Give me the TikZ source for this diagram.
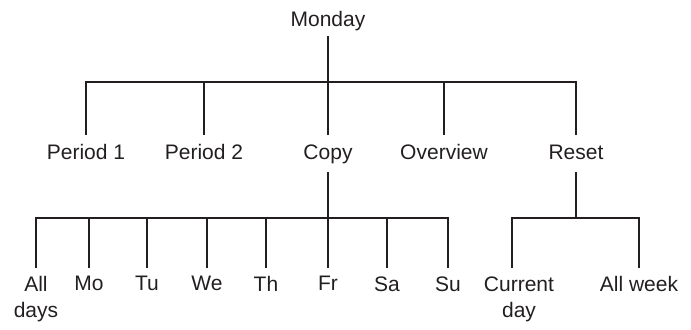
\documentclass[tikz,border=0pt]{standalone}
\usepackage{fontspec}
\setmainfont{Liberation Sans}
\usepackage{xcolor}
\definecolor{ink}{HTML}{231F20}
\usetikzlibrary{positioning, calc}

\begin{document}
\begin{tikzpicture}[
    x=0.5pt, y=-0.5pt,
    every node/.style={font=\fontsize{10.5}{13}\selectfont, text=ink},
    lbl/.style={anchor=base, inner xsep=1pt, inner ysep=4pt,
                text height=8pt, text depth=2.5pt},
    leaf/.style={anchor=north, align=center, inner xsep=1pt, inner ysep=4pt},
    edge/.style={draw=ink, line width=1.1pt}
]
\useasboundingbox (0,0) rectangle (691,329);
% Root
\node[lbl, inner ysep=2.5pt] (mon) at (328,26) {Monday};
% Menu row
\foreach \x/\n/\t in {86/p1/Period 1, 204/p2/Period 2, 328/copy/Copy,
                      444/ovw/Overview, 576/reset/Reset} {
    \node[lbl] (\n) at (\x,159) {\t};
}
% Copy targets
\foreach \x/\n/\t in {36/all/All\\days, 89/mo/Mo, 147/tu/Tu, 207/we/We,
                      266/th/Th, 328/fr/Fr, 387/sa/Sa, 448/su/Su} {
    \node[leaf] (\n) at (\x,268) {\t};
}
% Reset targets
\node[leaf] (cur) at (519,268) {Current\\day};
\node[leaf] (wk) at (639,268) {All week};
% Junctions
\coordinate (jtop) at (328,82);
\coordinate (jcopy) at (328,218);
\coordinate (jreset) at (576,218);
% Branches
\draw[edge] (mon) -- (jtop);
\foreach \n in {p1, p2, copy, ovw, reset} {
    \draw[edge] (\n) |- (jtop);
}
\draw[edge] (copy) -- (jcopy);
\foreach \n in {all, mo, tu, we, th, fr, sa, su} {
    \draw[edge] (\n) |- (jcopy);
}
\draw[edge] (reset) -- (jreset);
\draw[edge] ([xshift=-3.5pt]cur.north) |- (jreset);
\draw[edge] (wk) |- (jreset);
\end{tikzpicture}
\end{document}
